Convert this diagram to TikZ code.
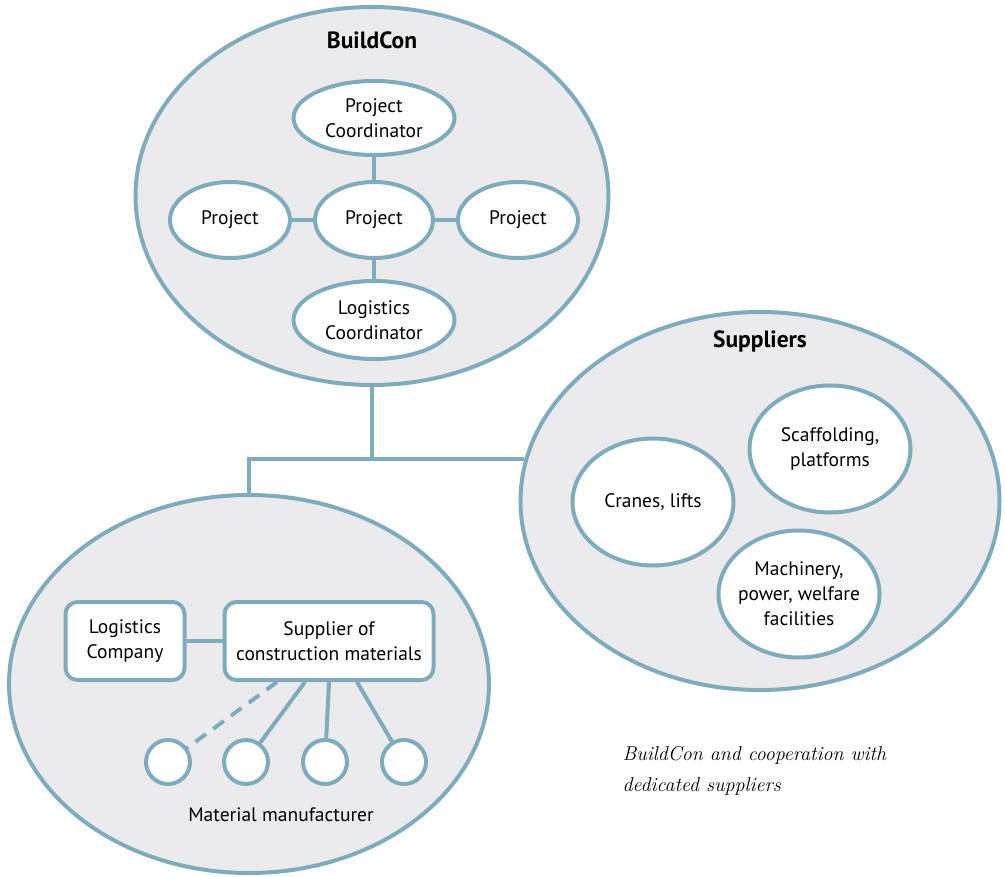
\documentclass[tikz,border=0pt]{standalone}
\usepackage{fontspec}
\setsansfont{PT Sans}
\usetikzlibrary{positioning}
\usetikzlibrary{shapes.geometric}
\definecolor{rim}{RGB}{127,172,189}
\definecolor{pale}{RGB}{235,235,238}

\begin{document}
\begin{tikzpicture}[x=1pt,y=-1pt,
  group/.style={ellipse,draw=rim,line width=4pt,fill=pale,inner sep=0pt},
  unit/.style={ellipse,draw=rim,line width=4pt,fill=white,inner sep=0pt,align=center,font=\sffamily\fontsize{19.5}{25}\selectfont},
  box/.style={rectangle,rounded corners=12pt,draw=rim,line width=4pt,fill=white,inner sep=2pt,align=center,font=\sffamily\fontsize{19.5}{25}\selectfont},
  maker/.style={circle,draw=rim,line width=4pt,fill=white,minimum size=44pt,inner sep=0pt},
  link/.style={draw=rim,line width=4pt},
  title/.style={font=\sffamily\bfseries\fontsize{23.5}{28}\selectfont}]
 \useasboundingbox (0,0) rectangle (1005,877);
 \node[group,minimum width=473pt,minimum height=378pt] (bc) at (372,196) {};
 \node[title] (bct) at (372,40) {BuildCon};
 \node[unit,minimum width=161pt,minimum height=74pt] (pc) at (374,118) {Project\\Coordinator};
 \node[unit,minimum width=118pt,minimum height=76pt] (pm) at (374,220) {Project};
 \node[unit,minimum width=120pt,minimum height=76pt] (pl) at (230,220) {Project};
 \node[unit,minimum width=120pt,minimum height=76pt] (pr) at (518,220) {Project};
 \node[unit,minimum width=161pt,minimum height=78pt] (lco) at (374,320) {Logistics\\Coordinator};
 \draw[link] (pc) -- (pm);
 \draw[link] (pm) -- (lco);
 \draw[link] (pl) -- (pm);
 \draw[link] (pm) -- (pr);

 \node[group,minimum width=479pt,minimum height=378pt] (sup) at (760,501) {};
 \node[title] (supt) at (760,341) {Suppliers};
 \node[unit,minimum width=161pt,minimum height=127pt] (cr) at (653,502) {Cranes, lifts};
 \node[unit,minimum width=161pt,minimum height=127pt] (sc) at (830,449) {Scaffolding,\\platforms};
 \node[unit,inner xsep=-6pt,minimum width=161pt,minimum height=127pt] (ma) at (799,594) {Machinery,\\power, welfare\\facilities};

 \node[group,minimum width=480pt,minimum height=378pt] (bl) at (249,684) {};
 \node[box,minimum width=119pt,minimum height=78pt] (lc) at (125,641) {Logistics\\Company};
 \node[box,minimum width=209pt,minimum height=78pt] (sm) at (329,641) {Supplier of\\construction materials};
 \node[maker] (m1) at (168,762) {};
 \node[maker] (m2) at (246,762) {};
 \node[maker] (m3) at (325,762) {};
 \node[maker] (m4) at (404,762) {};
 \node[font=\sffamily\fontsize{19.5}{25}\selectfont] (mm) at (281,815) {Material manufacturer};
 \draw[link] (lc) -- (sm);
 \draw[link,dash pattern=on 13pt off 9pt] ([xshift=-52pt]sm.south) -- (m1);
 \draw[link] ([xshift=-24pt]sm.south) -- (m2);
 \draw[link] (sm.south) -- (m3);
 \draw[link] ([xshift=28pt]sm.south) -- (m4);

 \draw[link] (bc.south) -- (bc.south |- sup.170);
 \draw[link] (bl.north) |- (sup.170);

 \node[anchor=west,align=left,font=\itshape\fontsize{20}{31}\selectfont] (cap) at (619,771) {BuildCon and cooperation with\\dedicated suppliers};
\end{tikzpicture}
\end{document}
